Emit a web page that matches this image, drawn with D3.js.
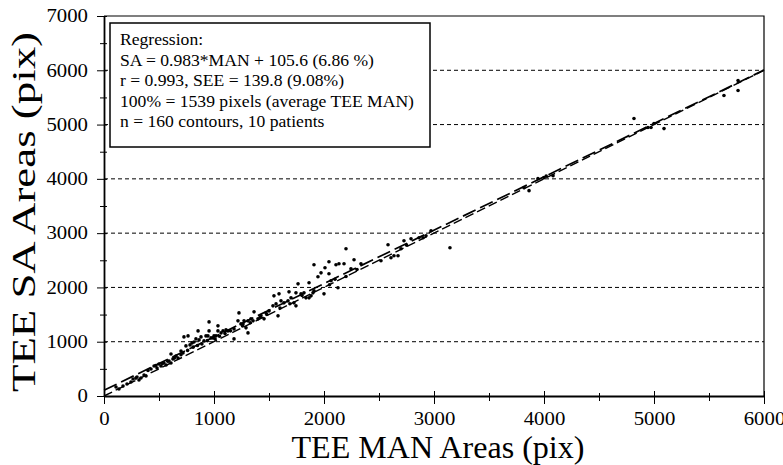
<!DOCTYPE html>
<html>
<head>
<meta charset="utf-8">
<script src="https://cdnjs.cloudflare.com/ajax/libs/d3/7.8.5/d3.min.js"></script>
<style>
  html, body { margin: 0; padding: 0; background: #fff; }
  svg { display: block; font-family: 'Liberation Serif', 'Times New Roman', serif; }
</style>
</head>
<body>
<div id="chart"></div>
<script>
// axis ticks
const xTicks = d3.range(0, 6001, 500)
const yTicks = d3.range(0, 7001, 500)
const gridValues = [1000, 2000, 3000, 4000, 5000, 6000]

// regression (SA = slope * MAN + intercept)
const slope = 0.983
const intercept = 105.6
const lineEnds = [0, 6000]

const legendLines = [
  'Regression:',
  'SA = 0.983*MAN + 105.6 (6.86 %)',
  'r = 0.993, SEE = 139.8 (9.08%)',
  '100% = 1539 pixels (average TEE MAN)',
  'n = 160 contours, 10 patients'
]

// [TEE MAN area, TEE SA area]
const contourAreas = [
  [109, 166], [173, 185], [136, 129], [209, 221], [245, 258], [264, 314], [300, 351], [336, 332], [364, 387], [382, 369], [318, 295],
  [427, 498], [455, 554], [482, 517], [500, 590], [518, 554], [545, 609], [564, 572], [591, 646], [609, 609], [627, 683],
  [609, 775], [673, 701], [655, 738], [700, 830], [718, 793],
  [727, 1089], [764, 1107], [745, 923], [782, 941], [800, 978], [818, 996], [836, 1052], [855, 1199], [864, 1033], [882, 1089],
  [909, 1015], [927, 1107], [945, 1107], [955, 1365], [955, 1199], [973, 1070], [991, 1070], [1000, 1107], [1018, 1107],
  [1036, 1292], [1036, 1199], [1064, 1162], [1082, 1199], [1109, 1218], [1127, 1199],
  [1182, 1236], [1182, 1052], [1218, 1384], [1227, 1531], [1245, 1328], [1264, 1328], [1273, 1384], [1291, 1255], [1309, 1384],
  [1309, 1162], [1336, 1421], [1355, 1384], [1364, 1550], [1400, 1421], [1427, 1476], [1455, 1421], [1473, 1531], [1500, 1568],
  [1536, 1661], [1545, 1845], [1564, 1697], [1582, 1476], [1591, 1882], [1609, 1753], [1636, 1716], [1673, 1753], [1682, 1919],
  [1700, 1808], [1727, 1716], [1745, 1900], [1745, 1661], [1764, 2066], [1791, 1882], [1818, 1900], [1836, 1808], [1864, 2085],
  [1864, 1808], [1882, 1845], [1909, 1937], [1909, 2417], [1945, 2196], [1973, 2269], [2000, 1882], [2009, 2362], [2045, 2472],
  [2045, 2251], [2064, 2122], [2109, 2417], [2127, 1993], [2136, 2435], [2182, 2435], [2200, 2712], [2245, 2343], [2273, 2509],
  [2336, 2435],
  [2518, 2491], [2582, 2786], [2609, 2546], [2636, 2583], [2673, 2583], [2700, 2712], [2727, 2860], [2791, 2897], [2864, 2915],
  [2900, 2915], [2927, 2952], [2973, 3044], [3145, 2731],
  [3818, 3838], [3864, 3783], [3945, 4004], [4000, 4022], [4082, 4059],
  [4818, 5111], [4945, 4945], [4973, 4945], [5091, 4926],
  [5636, 5535], [5764, 5812], [5764, 5627],
  [290, 330], [400, 470], [470, 560], [530, 600], [580, 640], [640, 700], [700, 760], [760, 840], [810, 900], [850, 930],
  [890, 960], [940, 1020], [1010, 1050], [1050, 1100], [1100, 1150], [1150, 1200], [1260, 1290], [1330, 1350], [1420, 1450],
  [1480, 1500], [1600, 1620], [1690, 1700], [1800, 1850], [1900, 1900], [2050, 2050], [2100, 2150], [2200, 2200], [2300, 2330],
  [2750, 2780], [4020, 4050], [5000, 5020]
]

const fontFamily = "'Liberation Serif', 'Times New Roman', serif"

const margin = { top: 16, right: 19, bottom: 69, left: 104 }
const fullWidth = 783
const fullHeight = 465
const width = fullWidth - margin.left - margin.right
const height = fullHeight - margin.top - margin.bottom

const x = d3.scaleLinear().domain([0, 6000]).range([0, width])
const y = d3.scaleLinear().domain([0, 7000]).range([height, 0])

const svg = d3.select('#chart').append('svg')
  .attr('width', fullWidth)
  .attr('height', fullHeight)
  .attr('font-family', fontFamily)

const g = svg.append('g')
  .attr('transform', `translate(${margin.left}, ${margin.top})`)

// GRID
g.append('g').selectAll('line').data(gridValues)
  .join('line')
  .attr('x1', 0)
  .attr('x2', width)
  .attr('y1', (d) => y(d))
  .attr('y2', (d) => y(d))
  .attr('stroke', '#000')
  .attr('stroke-width', 1)
  .attr('stroke-dasharray', '4,3')

// FRAME (top + right)
g.append('path')
  .attr('d', `M0,${y(7000)}H${x(6000)}V${y(0)}`)
  .attr('fill', 'none')
  .attr('stroke', '#000')
  .attr('stroke-width', 1.2)

// POINTS
g.append('g').selectAll('circle').data(contourAreas)
  .join('circle')
  .attr('cx', (d) => x(d[0]))
  .attr('cy', (d) => y(d[1]))
  .attr('r', 1.8)
  .attr('fill', '#000')

// LINES: identity and regression
const line = d3.line()
  .x((d) => x(d[0]))
  .y((d) => y(d[1]))

g.append('path')
  .datum(lineEnds.map((v) => [v, v]))
  .attr('d', line)
  .attr('fill', 'none')
  .attr('stroke', '#000')
  .attr('stroke-width', 1.4)
  .attr('stroke-dasharray', '9,4')

g.append('path')
  .datum(lineEnds.map((v) => [v, slope * v + intercept]))
  .attr('d', line)
  .attr('fill', 'none')
  .attr('stroke', '#000')
  .attr('stroke-width', 1.7)
  .attr('stroke-dasharray', '14,5')

// AXES
const fmt = (d) => (d % 1000 === 0 ? d : '')

const xAxis = g.append('g')
  .attr('transform', `translate(0, ${height})`)
  .call(d3.axisBottom(x).tickValues(xTicks).tickFormat(fmt).tickSize(0).tickPadding(16).tickSizeOuter(0))

xAxis.selectAll('.tick line')
  .attr('y1', (d) => (d % 1000 === 0 ? -5 : -3))
  .attr('y2', (d) => (d % 1000 === 0 ? 8 : 5))

const yAxis = g.append('g')
  .call(d3.axisLeft(y).tickValues(yTicks).tickFormat(fmt).tickSize(0).tickPadding(16).tickSizeOuter(0))

yAxis.selectAll('.tick line')
  .attr('x1', (d) => (d % 1000 === 0 ? -7 : -4))
  .attr('x2', 3)

for (const axis of [xAxis, yAxis]) {
  axis.attr('font-family', fontFamily).attr('font-size', 18)
  axis.select('.domain').attr('stroke', '#000').attr('stroke-width', 1.8)
  axis.selectAll('.tick line').attr('stroke', '#000').attr('stroke-width', 1)
  axis.selectAll('.tick text')
    .attr('fill', '#000')
    .filter((d) => d % 1000 === 0)
    .attr('textLength', (d) => String(d).length * 10.4)
    .attr('lengthAdjust', 'spacingAndGlyphs')
}

// AXIS TITLES
svg.append('text')
  .attr('x', margin.left + width / 2 + 4)
  .attr('y', 458)
  .attr('text-anchor', 'middle')
  .attr('font-size', 31)
  .attr('textLength', 293)
  .attr('lengthAdjust', 'spacingAndGlyphs')
  .text('TEE MAN Areas (pix)')

svg.append('text')
  .attr('transform', 'translate(35, 212) rotate(-90)')
  .attr('text-anchor', 'middle')
  .attr('font-size', 33)
  .attr('textLength', 360)
  .attr('lengthAdjust', 'spacingAndGlyphs')
  .text('TEE SA Areas (pix)')

// LEGEND
const legend = svg.append('g')
  .attr('transform', 'translate(110, 23)')

legend.append('rect')
  .attr('width', 320)
  .attr('height', 124)
  .attr('fill', '#fff')
  .attr('stroke', '#000')
  .attr('stroke-width', 1.5)

legend.selectAll('text').data(legendLines)
  .join('text')
  .attr('x', 10)
  .attr('y', (d, i) => 22 + i * 20.6)
  .attr('font-size', 17.6)
  .text((d) => d)
</script>
</body>
</html>
